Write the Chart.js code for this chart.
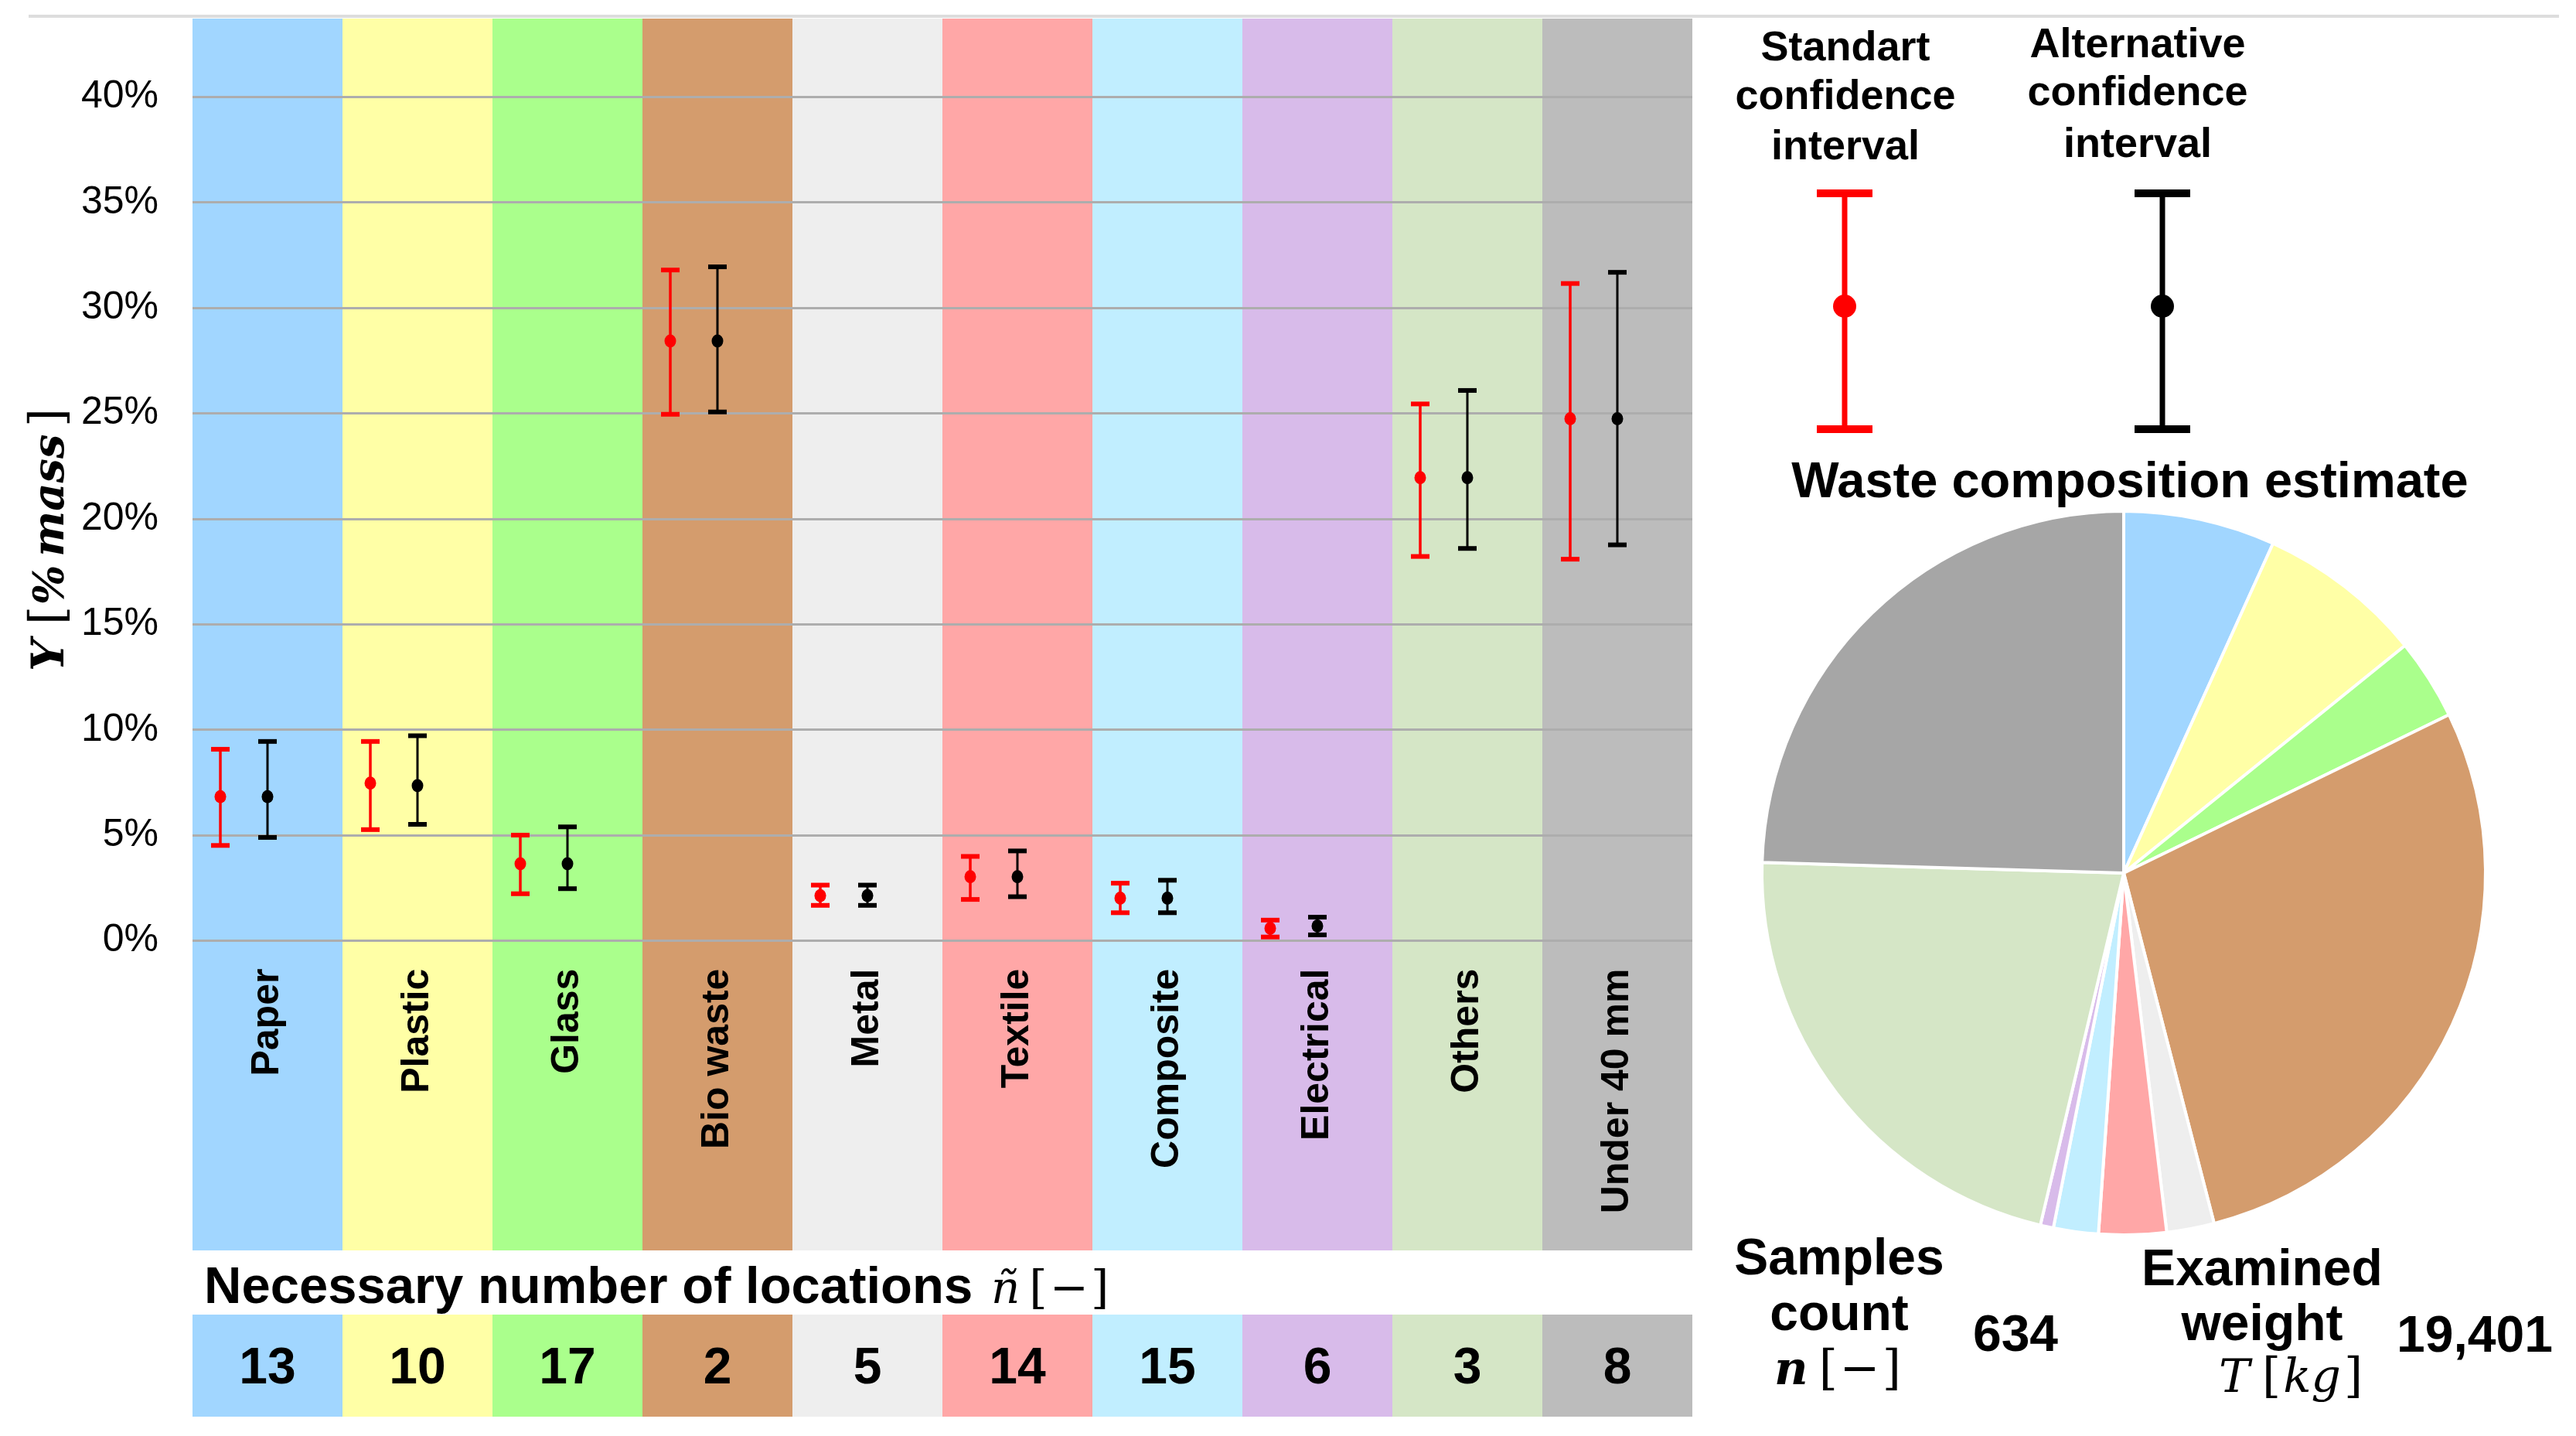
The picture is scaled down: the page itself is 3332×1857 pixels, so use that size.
<!DOCTYPE html>
<html><head><meta charset="utf-8">
<script src="https://cdn.jsdelivr.net/npm/chart.js@4.4.1/dist/chart.umd.min.js"></script>
<style>
html,body{margin:0;padding:0;background:#fff;width:3332px;height:1857px;overflow:hidden}
#topline{position:absolute;left:37px;top:19px;width:3273px;height:4px;background:#DDDDDD}
#wrapA{position:absolute;left:0;top:0;width:2200px;height:1857px}
#wrapB{position:absolute;left:2200px;top:0;width:1132px;height:1857px}
</style></head><body>
<div id="topline"></div>
<div id="wrapA"><canvas id="main"></canvas></div>
<div id="wrapB"><canvas id="pie"></canvas></div>
<script>
// ---------- DATA ----------
const categories = ['Paper','Plastic','Glass','Bio waste','Metal','Textile','Composite','Electrical','Others','Under 40 mm'];
const stdMean = [6.83, 7.47, 3.65, 28.43, 2.14, 3.04, 2.02, 0.59, 21.95, 24.75];
const stdLow  = [4.52, 5.27, 2.23, 24.96, 1.68, 1.96, 1.33, 0.18, 18.22, 18.09];
const stdHigh = [9.08, 9.45, 5.01, 31.80, 2.64, 4.00, 2.73, 0.98, 25.45, 31.16];
const altMean = [6.83, 7.35, 3.65, 28.43, 2.14, 3.04, 2.02, 0.70, 21.95, 24.75];
const altLow  = [4.90, 5.52, 2.47, 25.07, 1.68, 2.09, 1.33, 0.28, 18.60, 18.77];
const altHigh = [9.45, 9.72, 5.40, 31.95, 2.64, 4.26, 2.87, 1.12, 26.09, 31.69];
const locations = [13, 10, 17, 2, 5, 14, 15, 6, 3, 8];
const yTickValues = [0, 5, 10, 15, 20, 25, 30, 35, 40];
const samplesCount = '634';
const examinedWeight = '19,401';

// ---------- STYLE ----------
const bandColors = ['#A1D6FF','#FFFFA6','#AAFF8C','#D49C6D','#EEEEEE','#FFA7A7','#C1EEFF','#D8BBEA','#D5E6C6','#BCBCBC'];
const pieColors  = ['#A1D6FF','#FFFFA6','#AAFF8C','#D49C6D','#EEEEEE','#FFA7A7','#C1EEFF','#D8BBEA','#D5E6C6','#A6A6A6'];
const SANS = '"Liberation Sans", Arial, sans-serif';
const MATH = '"DejaVu Serif", "Liberation Serif", serif';
const RED = '#FF0000', BLACK = '#000000';

function drawRuns(ctx, runs, x, y, align) {
  let total = 0;
  runs.forEach(r => { ctx.font = r.f; r.w = ctx.measureText(r.t).width; total += r.w + (r.gap || 0); });
  let cx = align === 'center' ? x - total / 2 : x;
  ctx.textAlign = 'left'; ctx.textBaseline = 'alphabetic';
  runs.forEach(r => { ctx.font = r.f; ctx.fillText(r.t, cx, y); cx += r.w + (r.gap || 0); });
}
function text(ctx, t, font, x, y, align) {
  ctx.font = font; ctx.textAlign = align || 'center'; ctx.textBaseline = 'alphabetic';
  ctx.fillText(t, x, y);
}

// ---------- MAIN CHART ----------
const ROW_TOP = 1700, ROW_H = 132;
const bandsPlugin = {
  id: 'bands',
  beforeDraw(chart) {
    const {ctx, chartArea, scales: {x}} = chart;
    const step = x.getPixelForValue(1) - x.getPixelForValue(0);
    ctx.save();
    categories.forEach((c, i) => {
      const cx = x.getPixelForValue(i);
      const l = Math.round(cx - step / 2), r = Math.round(cx + step / 2);
      ctx.fillStyle = bandColors[i];
      ctx.fillRect(l, chartArea.top, r - l, x.bottom - chartArea.top);
      ctx.fillRect(l, ROW_TOP, r - l, ROW_H);
    });
    ctx.restore();
  },
  afterDraw(chart) {
    const {ctx, scales: {x}} = chart;
    ctx.save();
    ctx.fillStyle = '#000';
    categories.forEach((c, i) => {
      text(ctx, String(locations[i]), `bold 66px ${SANS}`, x.getPixelForValue(i), 1789, 'center');
    });
    text(ctx, 'Necessary number of locations', `bold 67px ${SANS}`, 264, 1685, 'left');
    drawRuns(ctx, [
      {t: 'ñ', f: `italic 58px ${MATH}`, gap: 12},
      {t: '[', f: `60px ${MATH}`, gap: 3},
      {t: '\u2212', f: `60px ${MATH}`, gap: 3},
      {t: ']', f: `60px ${MATH}`}
    ], 1282, 1685, 'left');
    // y axis title
    ctx.translate(82, 868);
    ctx.rotate(-Math.PI / 2);
    const runsY = [
      {t: 'Y', f: `bold italic 58px ${MATH}`, at: 0},
      {t: '[', f: `62px ${MATH}`, at: 60},
      {t: '%', f: `bold italic 54px ${MATH}`, at: 86},
      {t: 'mass', f: `bold italic 56px ${MATH}`, at: 148},
      {t: ']', f: `62px ${MATH}`, at: 316}
    ];
    ctx.textAlign = 'left'; ctx.textBaseline = 'alphabetic';
    runsY.forEach(r => { ctx.font = r.f; ctx.fillText(r.t, r.at, 0); });
    ctx.restore();
  }
};

const errorBarPlugin = {
  id: 'errorBars',
  afterDatasetsDraw(chart) {
    const {ctx, scales: {y}} = chart;
    const series = [
      {meta: chart.getDatasetMeta(0), mean: stdMean, low: stdLow, high: stdHigh, color: RED},
      {meta: chart.getDatasetMeta(1), mean: altMean, low: altLow, high: altHigh, color: BLACK}
    ];
    ctx.save();
    series.forEach(s => {
      ctx.fillStyle = s.color;
      s.meta.data.forEach((bar, i) => {
        const x = bar.x;
        const yl = y.getPixelForValue(s.low[i]);
        const yh = y.getPixelForValue(s.high[i]);
        const ym = y.getPixelForValue(s.mean[i]);
        ctx.fillRect(x - 12, yh - 3, 24, 6);
        ctx.fillRect(x - 12, yl - 3, 24, 6);
        ctx.beginPath();
        ctx.ellipse(x, ym, 7.5, 8.5, 0, 0, Math.PI * 2);
        ctx.fill();
      });
    });
    ctx.restore();
  }
};

new Chart(document.getElementById('main'), {
  type: 'bar',
  data: {
    labels: categories,
    datasets: [
      {label: 'Standart confidence interval', data: stdLow.map((l, i) => [l, stdHigh[i]]),
       backgroundColor: RED, maxBarThickness: 3.5, categoryPercentage: 0.943, barPercentage: 1},
      {label: 'Alternative confidence interval', data: altLow.map((l, i) => [l, altHigh[i]]),
       backgroundColor: BLACK, maxBarThickness: 3, categoryPercentage: 0.943, barPercentage: 1},
      {label: 'spacer', data: categories.map(() => null),
       backgroundColor: 'rgba(0,0,0,0)', maxBarThickness: 3, categoryPercentage: 0.943, barPercentage: 1}
    ]
  },
  options: {
    responsive: true, maintainAspectRatio: false, devicePixelRatio: 1, animation: false, events: [],
    layout: {padding: {top: 24, left: 20, right: 11, bottom: 240}},
    plugins: {legend: {display: false}, tooltip: {enabled: false}, title: {display: false}},
    scales: {
      x: {
        grid: {display: false}, border: {display: false},
        ticks: {autoSkip: false, minRotation: 90, maxRotation: 90, padding: 28, color: '#000',
                font: {family: SANS, weight: 'bold', size: 50}},
        afterFit(scale) { scale.height = 400.4; scale.paddingLeft = 0; scale.paddingRight = 0; }
      },
      y: {
        min: 0, max: 43.72,
        grid: {color: '#ADADAD', lineWidth: 3, drawTicks: false}, border: {display: false},
        afterBuildTicks(scale) { scale.ticks = yTickValues.map(v => ({value: v})); },
        ticks: {padding: 44, color: '#000', font: {family: SANS, size: 50}, callback: v => v + '%'},
        afterFit(scale) { scale.width = 229; scale.paddingTop = 0; scale.paddingBottom = 0; }
      }
    }
  },
  plugins: [bandsPlugin, errorBarPlugin]
});

// ---------- PIE + LEGEND ----------
const sidePlugin = {
  id: 'side',
  afterDraw(chart) {
    const ctx = chart.ctx;
    ctx.save();
    ctx.fillStyle = '#000';
    const lf = `bold 54px ${SANS}`;
    text(ctx, 'Standart', lf, 187, 78);
    text(ctx, 'confidence', lf, 187, 141);
    text(ctx, 'interval', lf, 187, 206);
    text(ctx, 'Alternative', lf, 565, 74);
    text(ctx, 'confidence', lf, 565, 136);
    text(ctx, 'interval', lf, 565, 203);
    [[186, RED], [597, BLACK]].forEach(([gx, col]) => {
      ctx.fillStyle = col;
      ctx.fillRect(gx - 3.5, 250, 7, 305);
      ctx.fillRect(gx - 36, 245, 72, 10);
      ctx.fillRect(gx - 36, 550, 72, 10);
      ctx.beginPath(); ctx.ellipse(gx, 396, 15, 15, 0, 0, Math.PI * 2); ctx.fill();
    });
    ctx.fillStyle = '#000';
    text(ctx, 'Waste composition estimate', `bold 65px ${SANS}`, 555, 643);
    const bf = `bold 66px ${SANS}`;
    text(ctx, 'Samples', bf, 179, 1648);
    text(ctx, 'count', bf, 179, 1720);
    drawRuns(ctx, [
      {t: 'n', f: `bold italic 60px ${MATH}`, gap: 14},
      {t: '[', f: `62px ${MATH}`, gap: 3},
      {t: '\u2212', f: `62px ${MATH}`, gap: 3},
      {t: ']', f: `62px ${MATH}`}
    ], 177, 1790, 'center');
    text(ctx, samplesCount, bf, 407, 1747);
    text(ctx, 'Examined', bf, 726, 1662);
    text(ctx, 'weight', bf, 726, 1733);
    drawRuns(ctx, [
      {t: 'T', f: `italic 60px ${MATH}`, gap: 16},
      {t: '[', f: `62px ${MATH}`, gap: 3},
      {t: 'kg', f: `italic 60px ${MATH}`, gap: 4},
      {t: ']', f: `62px ${MATH}`}
    ], 763, 1800, 'center');
    text(ctx, examinedWeight, bf, 1001, 1748);
    ctx.restore();
  }
};

new Chart(document.getElementById('pie'), {
  type: 'pie',
  data: {
    labels: categories,
    datasets: [{data: stdMean, backgroundColor: pieColors, borderColor: '#FFFFFF', borderWidth: 4}]
  },
  options: {
    responsive: true, maintainAspectRatio: false, devicePixelRatio: 1, animation: false, events: [],
    layout: {padding: {left: 77, right: 115, top: 659, bottom: 258}},
    plugins: {legend: {display: false}, tooltip: {enabled: false}, title: {display: false}}
  },
  plugins: [sidePlugin]
});
</script>
</body></html>
